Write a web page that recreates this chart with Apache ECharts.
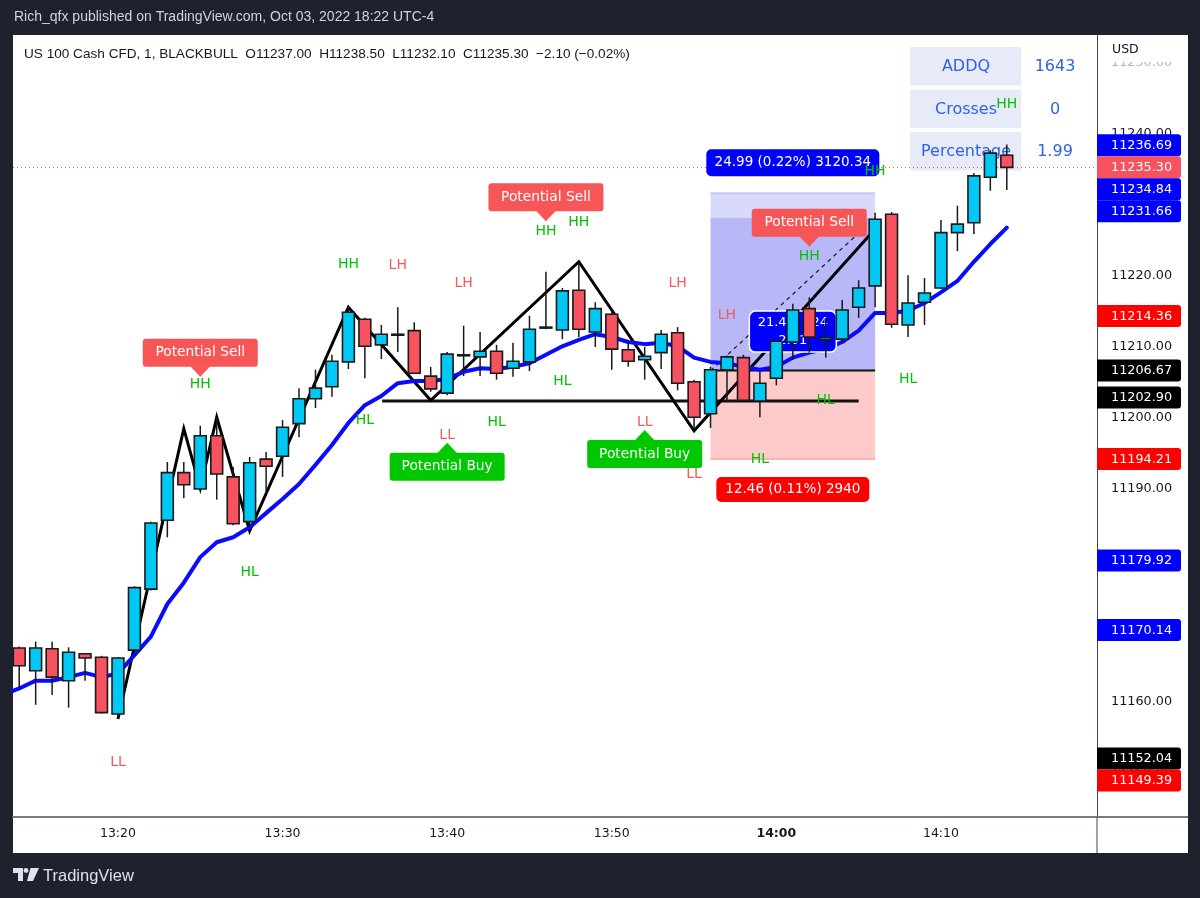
<!DOCTYPE html>
<html><head><meta charset="utf-8">
<script src="https://cdn.jsdelivr.net/npm/echarts@6/dist/echarts.min.js"></script>
<style>html,body{margin:0;padding:0;background:#1e222d;}#c{width:1200px;height:898px;}</style>
</head><body><div id="c"></div>
<script>
// ---------- DATA ----------
const candleTimes = ['13:14','13:15','13:16','13:17','13:18','13:19','13:20','13:21','13:22','13:23','13:24','13:25','13:26','13:27','13:28','13:29','13:30','13:31','13:32','13:33','13:34','13:35','13:36','13:37','13:38','13:39','13:40','13:41','13:42','13:43','13:44','13:45','13:46','13:47','13:48','13:49','13:50','13:51','13:52','13:53','13:54','13:55','13:56','13:57','13:58','13:59','14:00','14:01','14:02','14:03','14:04','14:05','14:06','14:07','14:08','14:09','14:10','14:11','14:12','14:13','14:14'];
const opens  = [11167.6,11164.4,11167.5,11163.0,11166.8,11166.3,11158.3,11167.3,11175.9,11185.6,11192.3,11190.0,11197.5,11191.7,11185.4,11194.2,11194.6,11199.2,11202.7,11204.4,11207.9,11213.9,11210.3,11211.8,11212.3,11205.9,11203.5,11208.9,11208.6,11209.4,11207.0,11207.9,11212.8,11212.4,11218.0,11212.1,11214.6,11209.6,11208.2,11209.2,11212.0,11205.1,11200.6,11206.8,11208.5,11202.4,11205.6,11210.7,11215.4,11211.0,11211.1,11215.6,11218.6,11228.7,11213.1,11216.3,11218.3,11226.1,11227.5,11233.9,11237.0];
const closes = [11165.1,11167.6,11163.5,11167.0,11166.2,11158.5,11166.2,11176.1,11185.2,11192.3,11190.6,11197.5,11192.1,11185.1,11193.7,11193.2,11198.7,11202.7,11204.2,11208.0,11214.9,11210.1,11211.8,11211.8,11206.3,11204.1,11209.0,11208.9,11209.4,11206.3,11208.0,11212.5,11212.8,11217.9,11212.5,11215.4,11209.7,11208.0,11208.7,11211.8,11204.9,11200.1,11206.8,11208.6,11202.5,11204.9,11210.8,11215.2,11211.4,11211.3,11215.2,11218.3,11228.0,11213.2,11216.2,11217.6,11226.1,11227.3,11234.1,11237.3,11235.3];
const lows   = [11162.1,11159.6,11161.0,11159.2,11163.0,11158.4,11157.6,11167.0,11175.7,11183.2,11188.7,11189.9,11188.5,11184.9,11184.6,11189.4,11191.7,11197.3,11201.4,11203.0,11206.9,11205.6,11208.3,11209.3,11206.2,11203.7,11203.2,11205.9,11205.9,11205.4,11205.8,11206.6,11212.5,11211.1,11211.4,11210.0,11206.8,11207.2,11205.4,11206.9,11203.9,11198.6,11198.6,11202.5,11202.4,11200.1,11204.6,11208.2,11209.2,11208.5,11210.6,11214.1,11215.6,11212.7,11211.4,11213.1,11218.2,11223.5,11225.9,11232.0,11232.1];
const highs  = [11167.8,11168.5,11168.5,11167.7,11166.9,11166.5,11166.3,11176.3,11185.4,11193.8,11193.8,11198.9,11200.1,11193.1,11194.5,11195.2,11199.7,11204.2,11206.8,11208.9,11215.6,11214.1,11213.1,11215.6,11213.5,11207.2,11209.3,11213.0,11212.1,11210.3,11210.6,11214.4,11220.6,11218.3,11221.8,11216.3,11214.9,11211.0,11210.0,11212.4,11212.8,11205.4,11207.2,11208.8,11208.9,11206.5,11211.0,11216.1,11217.0,11214.1,11216.6,11219.4,11228.9,11229.0,11220.1,11219.7,11227.9,11229.9,11234.5,11237.7,11238.5];
const lastClose = 11235.30;

// EMA (starts one bar before the first visible candle)
const emaStart = -1;
const emaValues = [11161.0,11161.9,11163.0,11163.0,11163.5,11164.1,11163.5,11164.0,11166.6,11169.2,11173.8,11176.8,11180.4,11182.5,11183.2,11184.6,11186.6,11188.6,11190.7,11193.4,11196.2,11199.3,11201.8,11203.1,11204.9,11205.2,11205.2,11205.5,11206.5,11207.0,11206.9,11207.2,11207.7,11208.9,11210.1,11211.0,11211.8,11211.4,11210.7,11210.4,11210.6,11210.1,11208.5,11207.9,11207.7,11207.2,11206.8,11207.2,11208.5,11209.2,11209.7,11210.7,11212.3,11214.8,11214.8,11215.1,11216.2,11217.7,11219.3,11222.0,11224.5,11226.8];

// ZigZag pivots (bar index, price)
const zigIdx   = [6, 10, 11, 12, 14, 20, 25, 34, 41, 52];
const zigPrice = [11157.6, 11198.5, 11190.1, 11200.1, 11184.1, 11215.6, 11202.5, 11222.0, 11198.2, 11226.6];

// Support line
const supportFrom = 22.05, supportTo = 51.0, supportPrice = 11202.4;

// Long position tool
const posStart = 42, posEnd = 52;
const posTarget = 11231.66, posReached = 11228.2, posEntry = 11206.67, posStop = 11194.21;
const posTopText = '24.99 (0.22%) 3120.34';
const posBottomText = '12.46 (0.11%) 2940';
const posMidText = ['21.44, 124', '2.01'];

// Signal labels
const signalIdx   = [11, 32, 48, 26, 38];
const signalPrice = [11205.8, 11227.7, 11224.1, 11196.5, 11198.3];
const signalKind  = ['sell', 'sell', 'sell', 'buy', 'buy'];

// Swing labels
const swingIdx   = [20, 23, 27, 40, 43, 32, 34, 11, 48, 52, 60, 21, 14, 29, 33, 49, 54, 45, 6, 26, 38, 41];
const swingPrice = [11221.7, 11221.5, 11218.9, 11218.9, 11214.4, 11226.3, 11227.5, 11204.8, 11222.8, 11234.8, 11244.2, 11199.7, 11178.2, 11199.4, 11205.2, 11202.5, 11205.5, 11194.2, 11151.5, 11197.6, 11199.4, 11192.1];
const swingText  = ['HH','LH','LH','LH','LH','HH','HH','HH','HH','HH','HH','HL','HL','HL','HL','HL','HL','HL','LL','LL','LL','LL'];

// Price tags on the axis
const tagValues = [11236.69, 11235.30, 11234.84, 11231.66, 11214.36, 11206.67, 11202.90, 11194.21, 11179.92, 11170.14, 11152.04, 11149.39];
const tagKinds  = ['blue','last','blue','blue','red','black','black','red','blue','blue','black','red'];

// Axis ticks
const priceTicks = [11150, 11160, 11170, 11180, 11190, 11200, 11210, 11220, 11230, 11240, 11250];
const timeTickIdx = [6, 16, 26, 36, 46, 56];
const timeTickLabels = ['13:20', '13:30', '13:40', '13:50', '14:00', '14:10'];

// Table
const tableLabels = ['ADDQ', 'Crosses', 'Percentage'];
const tableValues = ['1643', '0', '1.99'];

// ---------- CHART ----------
const FONT = 'DejaVu Sans';
const UP = '#00c8f5', DOWN = '#f7525f', EDGE = '#1a1a1a';
const GREEN = '#00c400', REDTXT = '#f65a5a';
const tagColor = {blue:'#0000ff', last:'#f7525f', red:'#ff0000', black:'#000000'};

const chart = echarts.init(document.getElementById('c'));

function renderCandle(params, api) {
  const i = api.value(0), o = api.value(1), c = api.value(2), l = api.value(3), h = api.value(4);
  const pO = api.coord([i, o]), pC = api.coord([i, c]), pL = api.coord([i, l]), pH = api.coord([i, h]);
  const w = api.size([1, 0])[0] * 0.72;
  const top = Math.min(pO[1], pC[1]), bot = Math.max(pO[1], pC[1]);
  const x = pO[0];
  return {type: 'group', children: [
    {type: 'line', shape: {x1: x, y1: pH[1], x2: x, y2: pL[1]}, style: {stroke: EDGE, lineWidth: 1.5}},
    {type: 'rect', shape: {x: x - w / 2, y: top, width: w, height: Math.max(bot - top, 1)},
     style: {fill: c >= o ? UP : DOWN, stroke: EDGE, lineWidth: 1.6}}
  ]};
}

function renderPosition(params, api) {
  const a = api.coord([posStart, posTarget]), b = api.coord([posEnd, posReached]);
  const e = api.coord([posEnd, posEntry]), s = api.coord([posEnd, posStop]);
  const x0 = a[0], x1 = b[0];
  return {type: 'group', children: [
    {type: 'rect', shape: {x: x0, y: a[1], width: x1 - x0, height: b[1] - a[1]}, style: {fill: '#d9d9fc'}},
    {type: 'rect', shape: {x: x0, y: b[1], width: x1 - x0, height: e[1] - b[1]}, style: {fill: '#b8b8f9'}},
    {type: 'rect', shape: {x: x0, y: e[1], width: x1 - x0, height: s[1] - e[1]}, style: {fill: '#fdcaca'}},
    {type: 'line', shape: {x1: x0, y1: a[1], x2: x1, y2: a[1]}, style: {stroke: '#c6c6f6', lineWidth: 2}},
    {type: 'line', shape: {x1: x0, y1: s[1], x2: x1, y2: s[1]}, style: {stroke: '#f8b4b4', lineWidth: 2}},
    {type: 'line', shape: {x1: x0, y1: e[1], x2: x1, y2: e[1]}, style: {stroke: '#111', lineWidth: 2}}
  ]};
}

function renderPosMid(params, api) {
  const c = api.coord([(posStart + posEnd) / 2, posEntry]);
  const cx = c[0], cy = c[1] - 39;
  return {type: 'group', children: [
    {type: 'rect', shape: {x: cx - 43.5, y: cy - 20.5, width: 87, height: 41, r: 6}, style: {fill: '#0000ff', stroke: '#ffffff', lineWidth: 1.5}},
    {type: 'text', x: cx, y: cy - 9, style: {text: posMidText[0], fill: '#fff', fontSize: 13, fontFamily: FONT, align: 'center', verticalAlign: 'middle'}},
    {type: 'text', x: cx, y: cy + 9, style: {text: posMidText[1], fill: '#fff', fontSize: 13, fontFamily: FONT, align: 'center', verticalAlign: 'middle'}}
  ]};
}

function renderPosLabels(params, api) {
  const t = api.coord([(posStart + posEnd) / 2, posTarget]);
  const s = api.coord([(posStart + posEnd) / 2, posStop]);
  const cx = t[0];
  const ty = t[1] - 30.5, sy = s[1] + 30.5;
  return {type: 'group', children: [
    {type: 'rect', shape: {x: cx - 86.5, y: ty - 13.5, width: 173, height: 27, r: 5}, style: {fill: '#0000ff'}},
    {type: 'text', x: cx, y: ty, style: {text: posTopText, fill: '#fff', fontSize: 13.5, fontFamily: FONT, align: 'center', verticalAlign: 'middle'}},
    {type: 'rect', shape: {x: cx - 76.5, y: sy - 12.5, width: 153, height: 25, r: 5}, style: {fill: '#ff0000'}},
    {type: 'text', x: cx, y: sy, style: {text: posBottomText, fill: '#fff', fontSize: 13.5, fontFamily: FONT, align: 'center', verticalAlign: 'middle'}}
  ]};
}

function renderSignal(params, api) {
  const k = params.dataIndex;
  const p = api.coord([api.value(0), api.value(1)]);
  const cx = p[0], ty = p[1];
  const sell = signalKind[k] === 'sell';
  const fill = sell ? '#f65656' : '#00c800';
  const boxY = sell ? ty - 38 : ty + 10;
  const tri = sell ? [[cx - 10, ty - 10.5], [cx + 10, ty - 10.5], [cx, ty]] : [[cx - 10, ty + 10.5], [cx + 10, ty + 10.5], [cx, ty]];
  return {type: 'group', children: [
    {type: 'rect', shape: {x: cx - 57.5, y: boxY, width: 115, height: 28, r: 3}, style: {fill: fill}},
    {type: 'polygon', shape: {points: tri}, style: {fill: fill}},
    {type: 'text', x: cx, y: boxY + 14, style: {text: sell ? 'Potential Sell' : 'Potential Buy', fill: '#fff', fontSize: 13.8, fontFamily: FONT, align: 'center', verticalAlign: 'middle'}}
  ]};
}

function renderSwing(params, api) {
  const k = params.dataIndex;
  const p = api.coord([api.value(0), api.value(1)]);
  const txt = swingText[k];
  const green = txt === 'HH' || txt === 'HL';
  return {type: 'text', x: p[0], y: p[1], style: {text: txt, fill: green ? GREEN : REDTXT, fontSize: 14, fontFamily: FONT, align: 'center', verticalAlign: 'middle'}};
}

function tagLayout(api) {
  const ys = tagValues.map(v => api.coord([0, v])[1]);
  const out = ys.slice();
  const anchor = tagValues.indexOf(lastClose);
  const H = 22;
  const ids = ys.map((y, k) => k);
  const above = ids.filter(k => k !== anchor && ys[k] <= ys[anchor]).sort((a, b) => ys[b] - ys[a]);
  let prev = ys[anchor];
  above.forEach(k => { out[k] = Math.min(ys[k], prev - H); prev = out[k]; });
  const below = ids.filter(k => k !== anchor && ys[k] > ys[anchor]).sort((a, b) => ys[a] - ys[b]);
  prev = ys[anchor];
  below.forEach(k => { out[k] = Math.max(ys[k], prev + H); prev = out[k]; });
  return out;
}

function renderTag(params, api) {
  const k = params.dataIndex;
  const ys = tagLayout(api);
  const x0 = params.coordSys.x + params.coordSys.width;
  const y = ys[k];
  return {type: 'group', children: [
    {type: 'rect', shape: {x: x0, y: y - 11, width: 84, height: 22, r: [0, 3, 3, 0]}, style: {fill: tagColor[tagKinds[k]]}},
    {type: 'text', x: x0 + 14, y: y + 0.5, style: {text: tagValues[k].toFixed(2), fill: '#fff', fontSize: 12.8, fontFamily: FONT, align: 'left', verticalAlign: 'middle'}}
  ]};
}

const graphics = [
  {type: 'rect', z: -10, shape: {x: 13, y: 35, width: 1175, height: 818}, style: {fill: '#ffffff'}},
  {type: 'text', z: 1, x: 14, y: 17, style: {text: 'Rich_qfx published on TradingView.com, Oct 03, 2022 18:22 UTC-4', fill: '#d1d4dc', font: '14px "Liberation Sans"', verticalAlign: 'middle'}},
  {type: 'text', z: 1, x: 24, y: 54, style: {text: 'US 100 Cash CFD, 1, BLACKBULL  O11237.00  H11238.50  L11232.10  C11235.30  \u22122.10 (\u22120.02%)', fill: '#131722', font: '13.6px "Liberation Sans"', verticalAlign: 'middle'}},
  {type: 'rect', z: 20, shape: {x: 1098, y: 36, width: 90, height: 26}, style: {fill: '#ffffff'}},
  {type: 'text', z: 21, x: 1112, y: 50, style: {text: 'USD', fill: '#131722', font: '12.5px "DejaVu Sans"', verticalAlign: 'middle'}},
  {type: 'line', z: 21, shape: {x1: 1097, y1: 817, x2: 1188, y2: 817}, style: {stroke: '#787b86', lineWidth: 2}},
  {type: 'line', z: 21, shape: {x1: 1097, y1: 817, x2: 1097, y2: 853}, style: {stroke: '#434651', lineWidth: 1}},
  // TradingView logo
  {type: 'polygon', z: 1, shape: {points: [[13, 868], [23, 868], [23, 881], [18, 881], [18, 873], [13, 873]]}, style: {fill: '#e0e3eb'}},
  {type: 'circle', z: 1, shape: {cx: 26, cy: 870.5, r: 2.4}, style: {fill: '#e0e3eb'}},
  {type: 'polygon', z: 1, shape: {points: [[30.5, 868], [39, 868], [33, 881], [27, 881]]}, style: {fill: '#e0e3eb'}},
  {type: 'text', z: 1, x: 43, y: 876, style: {text: 'TradingView', fill: '#e0e3eb', font: '16.5px "Liberation Sans"', verticalAlign: 'middle'}}
];
// Table (top right)
tableLabels.forEach((lab, r) => {
  const y0 = 47 + r * 42.5;
  graphics.push({type: 'rect', z: 1, shape: {x: 910, y: y0, width: 111, height: 38.5}, style: {fill: '#e7ebf8'}});
  graphics.push({type: 'text', z: 1, x: 966, y: y0 + 20, style: {text: lab, fill: '#2f62e8', font: '16px "DejaVu Sans"', align: 'center', verticalAlign: 'middle'}});
  graphics.push({type: 'text', z: 1, x: 1055, y: y0 + 20, style: {text: tableValues[r], fill: '#2f62e8', font: '16px "DejaVu Sans"', align: 'center', verticalAlign: 'middle'}});
});

const option = {
  backgroundColor: '#1e222d',
  animation: false,
  grid: {left: 13, top: 35, width: 1084, height: 782},
  xAxis: {
    type: 'value', min: -0.377, max: 65.48,
    axisLine: {show: true, onZero: false, lineStyle: {color: '#787b86', width: 2}},
    axisTick: {show: false}, splitLine: {show: false},
    axisLabel: {
      customValues: timeTickIdx, margin: 10, color: '#131722', fontFamily: FONT, fontSize: 12.5,
      formatter: v => {
        const s = timeTickLabels[timeTickIdx.indexOf(v)] || '';
        return s.endsWith(':00') ? '{b|' + s + '}' : s;
      },
      rich: {b: {fontWeight: 'bold', color: '#131722', fontFamily: FONT, fontSize: 12.5}}
    }
  },
  yAxis: {
    type: 'value', position: 'right', min: 11143.8, max: 11253.94,
    axisLine: {show: true, onZero: false, lineStyle: {color: '#434651', width: 1}},
    axisTick: {show: false}, splitLine: {show: false},
    axisLabel: {
      customValues: priceTicks, margin: 14, color: '#131722', fontFamily: FONT, fontSize: 12.8,
      formatter: v => v === 11250 ? '{f|' + v.toFixed(2) + '}' : v.toFixed(2),
      rich: {f: {color: '#b2b5be', fontFamily: FONT, fontSize: 12.8}}
    }
  },
  graphic: graphics,
  series: [
    {type: 'custom', name: 'position', z: 1, renderItem: renderPosition, data: [[posStart, posEntry]], silent: true},
    {type: 'line', name: 'support', z: 2, symbol: 'none', silent: true,
     data: [[supportFrom, supportPrice], [supportTo, supportPrice]], lineStyle: {color: '#111', width: 3}},
    {type: 'line', name: 'rr', z: 2, symbol: 'none', silent: true,
     data: [[posStart, posEntry], [posEnd, posReached]], lineStyle: {color: '#222', width: 1.3, type: [4, 4]}},
    {type: 'line', name: 'zigzag', z: 3, symbol: 'none', silent: true,
     data: zigIdx.map((x, k) => [x, zigPrice[k]]), lineStyle: {color: '#000', width: 3, join: 'miter'}},
    {type: 'line', name: 'EMA', z: 3, symbol: 'none', silent: true,
     data: emaValues.map((v, k) => [k + emaStart, v]), lineStyle: {color: '#0a0aff', width: 4, cap: 'round', join: 'round'},
     markLine: {silent: true, symbol: ['none', 'none'], label: {show: false},
       lineStyle: {color: '#f7525f', width: 1, type: [1, 3]}, data: [{yAxis: lastClose}]}},
    {type: 'custom', name: 'posMid', z: 4, renderItem: renderPosMid, data: [[posStart, posEntry]], silent: true},
    {type: 'custom', name: 'candles', z: 5, renderItem: renderCandle, silent: true,
     encode: {x: 0, y: [1, 2, 3, 4]},
     data: opens.map((o, i) => [i, o, closes[i], lows[i], highs[i]])},
    {type: 'custom', name: 'posLabels', z: 6, renderItem: renderPosLabels, data: [[posStart, posEntry]], silent: true},
    {type: 'custom', name: 'signals', z: 6, renderItem: renderSignal, silent: true,
     data: signalIdx.map((x, k) => [x, signalPrice[k]])},
    {type: 'custom', name: 'swings', z: 7, renderItem: renderSwing, silent: true,
     data: swingIdx.map((x, k) => [x, swingPrice[k]])},
    {type: 'custom', name: 'tags', z: 30, clip: false, renderItem: renderTag, silent: true,
     data: tagValues.map(v => [60, v])}
  ]
};
chart.setOption(option);
</script></body></html>
